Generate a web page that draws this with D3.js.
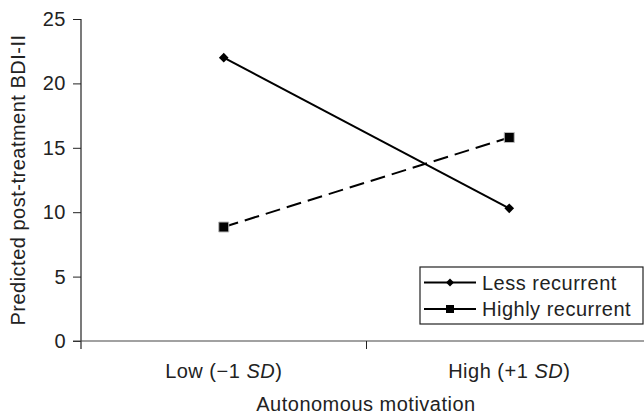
<!DOCTYPE html>
<html>
<head>
<meta charset="utf-8">
<script src="https://cdn.jsdelivr.net/npm/d3@7"></script>
<style>
  body { margin: 0; background: #fff; }
  svg { display: block; }
  text { font-family: "Liberation Sans", Arial, Helvetica, sans-serif; fill: #222; letter-spacing: 0.5px; }
</style>
</head>
<body>
<div id="chart"></div>
<script>
// chart values
var categories = ["Low", "High"];
var categoryLabels = [
  [{ t: "Low (\u22121 " }, { t: "SD", i: true }, { t: ")" }],
  [{ t: "High (+1 " }, { t: "SD", i: true }, { t: ")" }]
];
var seriesNames = ["Less recurrent", "Highly recurrent"];
var lessRecurrent = [22.0, 10.3];
var highlyRecurrent = [8.85, 15.8];
var yTicks = [0, 5, 10, 15, 20, 25];

var W = 644, H = 414;
var fontSize = 20;

var svg = d3.select("#chart").append("svg")
  .attr("width", W)
  .attr("height", H);

var x = d3.scaleBand().domain(categories).range([81, 652]);
var y = d3.scaleLinear().domain([0, 25]).range([341, 19]);

// y axis
var yAxis = d3.axisLeft(y).tickValues(yTicks).tickSize(8).tickPadding(7);
var gy = svg.append("g").attr("transform", "translate(" + x.range()[0] + ",0)").call(yAxis);
gy.select(".domain").remove();
gy.selectAll("line").attr("stroke", "#222");
gy.selectAll("text").style("font-size", fontSize + "px").attr("fill", "#222");
svg.append("line")
  .attr("x1", x.range()[0]).attr("x2", x.range()[0])
  .attr("y1", y(25)).attr("y2", y(0) + 8)
  .attr("stroke", "#222").attr("stroke-width", 1.2);

// x axis: line plus ticks at the band edges
svg.append("line")
  .attr("x1", x.range()[0] - 8).attr("x2", W)
  .attr("y1", y(0)).attr("y2", y(0))
  .attr("stroke", "#444").attr("stroke-width", 1.2);
var edges = categories.map(function (c) { return x(c); }).concat([x.range()[1]]);
svg.selectAll(".xtick")
  .data(edges.slice(1))
  .enter()
  .append("line")
  .attr("class", "xtick")
  .attr("x1", function (d) { return d; })
  .attr("x2", function (d) { return d; })
  .attr("y1", y(0))
  .attr("y2", y(0) + 8)
  .attr("stroke", "#222");

// category labels
svg.selectAll(".xlabel")
  .data(categories)
  .enter()
  .append("text")
  .attr("class", "xlabel")
  .attr("x", function (d) { return x(d) + x.bandwidth() / 2; })
  .attr("y", 378)
  .attr("text-anchor", "middle")
  .style("font-size", fontSize + "px")
  .each(function (d, i) {
    var t = d3.select(this);
    categoryLabels[i].forEach(function (p) {
      t.append("tspan").text(p.t).style("font-style", p.i ? "italic" : "normal");
    });
  });

// axis titles
svg.append("text")
  .attr("x", 366)
  .attr("y", 411)
  .attr("text-anchor", "middle")
  .style("font-size", fontSize + "px")
  .text("Autonomous motivation");

svg.append("text")
  .attr("transform", "translate(25," + (y(0) + y(25)) / 2 + ") rotate(-90)")
  .attr("text-anchor", "middle")
  .style("font-size", fontSize + "px")
  .text("Predicted post-treatment BDI-II");

// lines
var line = d3.line()
  .x(function (d, i) { return x(categories[i]) + x.bandwidth() / 2; })
  .y(function (d) { return y(d); });

svg.append("path")
  .datum(lessRecurrent)
  .attr("d", line)
  .attr("fill", "none")
  .attr("stroke", "#000")
  .attr("stroke-width", 2);

svg.append("path")
  .datum(highlyRecurrent)
  .attr("d", line)
  .attr("fill", "none")
  .attr("stroke", "#000")
  .attr("stroke-width", 2)
  .attr("stroke-dasharray", "15,7");

var diamond = d3.symbol().type(d3.symbolDiamond2).size(60);
var square = d3.symbol().type(d3.symbolSquare).size(100);

svg.selectAll(".pt-less")
  .data(lessRecurrent)
  .enter()
  .append("path")
  .attr("class", "pt-less")
  .attr("transform", function (d, i) {
    return "translate(" + (x(categories[i]) + x.bandwidth() / 2) + "," + y(d) + ")";
  })
  .attr("d", diamond)
  .attr("fill", "#000");

svg.selectAll(".pt-high")
  .data(highlyRecurrent)
  .enter()
  .append("path")
  .attr("class", "pt-high")
  .attr("transform", function (d, i) {
    return "translate(" + (x(categories[i]) + x.bandwidth() / 2) + "," + y(d) + ")";
  })
  .attr("d", square)
  .attr("fill", "#000")
  .attr("stroke", "#bbb")
  .attr("stroke-width", 1);

// legend
var legend = svg.append("g").attr("transform", "translate(420,267)");
legend.append("rect")
  .attr("width", 223)
  .attr("height", 57)
  .attr("fill", "#fff")
  .attr("stroke", "#222")
  .attr("stroke-width", 1.2);

var rows = legend.selectAll(".lrow")
  .data(seriesNames)
  .enter()
  .append("g")
  .attr("class", "lrow")
  .attr("transform", function (d, i) { return "translate(0," + (15.5 + i * 26.5) + ")"; });

rows.append("line")
  .attr("x1", 4).attr("x2", 56)
  .attr("stroke", "#000").attr("stroke-width", 2);
rows.append("path")
  .attr("transform", "translate(30,0)")
  .attr("d", function (d, i) { return i === 0 ? d3.symbol().type(d3.symbolDiamond2).size(40)() : d3.symbol().type(d3.symbolSquare).size(64)(); })
  .attr("fill", "#000");
rows.append("text")
  .attr("x", 62)
  .attr("y", 7)
  .style("font-size", fontSize + "px")
  .text(function (d) { return d; });
</script>
</body>
</html>
